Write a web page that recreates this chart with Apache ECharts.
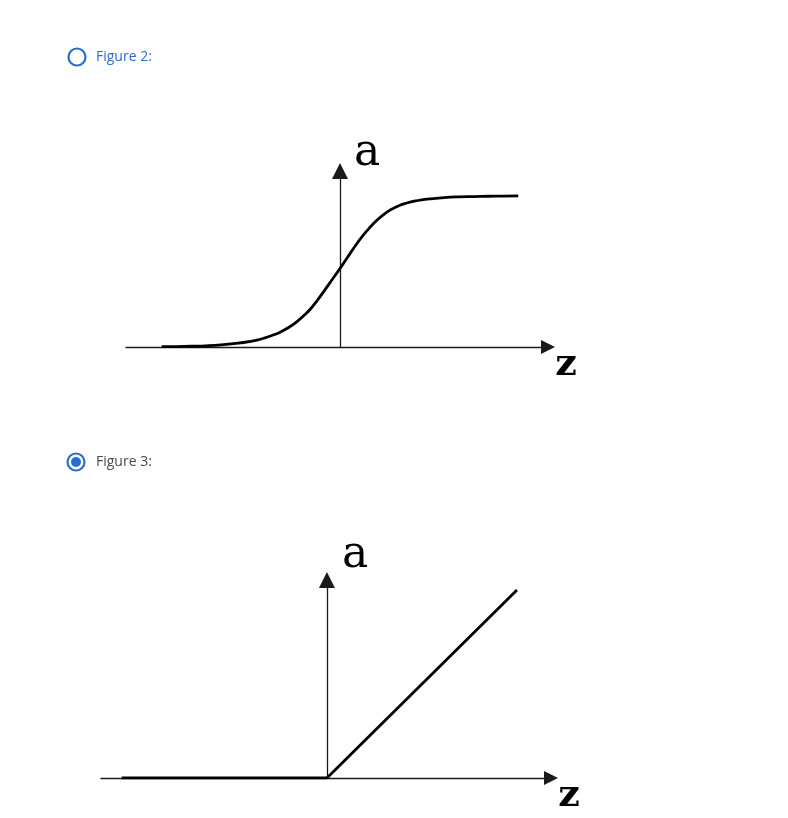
<!DOCTYPE html>
<html>
<head>
<meta charset="utf-8">
<style>
html,body{margin:0;padding:0;background:#fff;}
#chart{width:788px;height:818px;}
</style>
<script src="https://cdn.jsdelivr.net/npm/echarts@6/dist/echarts.min.js"></script>
</head>
<body>
<div id="chart"></div>
<script>
// Figure 2 (S-shaped curve)
const sigZ = [-6, -5.5, -5, -4.5, -4, -3.5, -3, -2.75, -2.5, -2.25, -2, -1.75, -1.5, -1.25, -1, -0.75, -0.5, -0.25, 0, 0.25, 0.5, 0.75, 1, 1.25, 1.5, 1.75, 2, 2.25, 2.5, 2.75, 3, 3.5, 4, 4.5, 5, 5.5, 6];
const sigA = [0.002, 0.003, 0.005, 0.008, 0.014, 0.024, 0.038, 0.048, 0.062, 0.079, 0.10, 0.127, 0.16, 0.202, 0.25, 0.312, 0.38, 0.45, 0.52, 0.593, 0.665, 0.732, 0.79, 0.84, 0.882, 0.913, 0.937, 0.953, 0.965, 0.974, 0.98, 0.989, 0.994, 0.996, 0.998, 0.999, 1.0];
// Figure 3 (ramp)
const reluZ = [-1.08, 0, 1.0];
const reluA = [0, 0, 0.99];
// labels
const optionLabels = ['Figure 2:', 'Figure 3:'];
const axisNames = { x: 'z', y: 'a' };

const blue = '#2b6cd1';
const axisCol = '#1a1a1a';

function axisLine(size) {
  return {
    show: true,
    onZero: true,
    symbol: ['none', 'triangle'],
    symbolSize: [size, size],
    lineStyle: { color: axisCol, width: 1.3 }
  };
}
const hidden = {
  axisTick: { show: false },
  axisLabel: { show: false },
  splitLine: { show: false }
};

const chart = echarts.init(document.getElementById('chart'), null, { renderer: 'canvas' });
chart.setOption({
  backgroundColor: '#fff',
  animation: false,
  grid: [
    { left: 126, top: 171, width: 422, height: 176 },
    { left: 101, top: 580, width: 450, height: 198 }
  ],
  xAxis: [
    Object.assign({ type: 'value', gridIndex: 0, min: -7.2, max: 7.0, axisLine: axisLine(14) }, hidden),
    Object.assign({ type: 'value', gridIndex: 1, min: -1.189, max: 1.179, axisLine: axisLine(14) }, hidden)
  ],
  yAxis: [
    Object.assign({ type: 'value', gridIndex: 0, min: 0, max: 1.165, axisLine: axisLine(16) }, hidden),
    Object.assign({ type: 'value', gridIndex: 1, min: 0, max: 1.042, axisLine: axisLine(16) }, hidden)
  ],
  series: [
    {
      type: 'line', xAxisIndex: 0, yAxisIndex: 0,
      data: sigZ.map((z, i) => [z, sigA[i]]),
      smooth: true, showSymbol: false, silent: true,
      lineStyle: { color: '#000', width: 2.8 }
    },
    {
      type: 'line', xAxisIndex: 1, yAxisIndex: 1,
      data: reluZ.map((z, i) => [z, reluA[i]]),
      smooth: false, showSymbol: false, silent: true,
      lineStyle: { color: '#000', width: 2.8 }
    }
  ],
  graphic: [
    // radio 1 (unselected)
    { type: 'circle', shape: { cx: 77, cy: 57, r: 8.5 }, style: { fill: '#fff', stroke: blue, lineWidth: 2.2 } },
    { type: 'text', x: 96, y: 57, style: { text: optionLabels[0], fontFamily: 'Open Sans', fontSize: 14, fill: blue, align: 'left', verticalAlign: 'middle' } },
    // radio 2 (selected)
    { type: 'circle', shape: { cx: 76, cy: 462, r: 8.5 }, style: { fill: '#fff', stroke: blue, lineWidth: 2.2 } },
    { type: 'circle', shape: { cx: 76, cy: 462, r: 5 }, style: { fill: blue } },
    { type: 'text', x: 96, y: 462, style: { text: optionLabels[1], fontFamily: 'Open Sans', fontSize: 14, fill: '#4a4a4a', align: 'left', verticalAlign: 'middle' } },
    // axis letters
    { type: 'text', x: 367, y: 154, style: { text: axisNames.y, fontFamily: 'DejaVu Serif', fontSize: 44, fill: '#000', align: 'center', verticalAlign: 'middle' } },
    { type: 'text', x: 566, y: 365, style: { text: axisNames.x, fontFamily: 'DejaVu Serif', fontWeight: 'bold', fontSize: 38, fill: '#000', align: 'center', verticalAlign: 'middle' } },
    { type: 'text', x: 355, y: 556, style: { text: axisNames.y, fontFamily: 'DejaVu Serif', fontSize: 44, fill: '#000', align: 'center', verticalAlign: 'middle' } },
    { type: 'text', x: 569, y: 796, style: { text: axisNames.x, fontFamily: 'DejaVu Serif', fontWeight: 'bold', fontSize: 38, fill: '#000', align: 'center', verticalAlign: 'middle' } }
  ]
});
</script>
</body>
</html>
